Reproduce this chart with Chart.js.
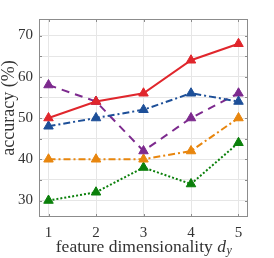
<!DOCTYPE html>
<html>
<head>
<meta charset="utf-8">
<script src="https://cdn.jsdelivr.net/npm/chart.js@4"></script>
<style>
  html, body { margin: 0; padding: 0; background: #fff; }
  #wrap { width: 274px; height: 258px; }
</style>
</head>
<body>
<div id="wrap"><canvas id="chart"></canvas></div>
<script>
const xValues = [1, 2, 3, 4, 5];
const redVals = [50, 54, 56, 64, 68];
const blueVals = [48, 50, 52, 56, 54];
const purpleVals = [58, 54, 42, 50, 56];
const orangeVals = [40, 40, 40, 42, 50];
const greenVals = [30, 32, 38, 34, 44];
const yTicks = [30, 35, 40, 45, 50, 55, 60, 65, 70];
const yLabels = [30, 40, 50, 60, 70];

const FONT = "'Liberation Serif', 'DejaVu Serif', serif";

function series(vals, color, dash) {
  return {
    data: vals.map((v, i) => ({ x: xValues[i], y: v })),
    borderColor: color,
    backgroundColor: color,
    borderWidth: 2,
    borderDash: dash,
    pointStyle: "triangle",
    pointRadius: 5.5,
    pointBorderWidth: 1,
    tension: 0
  };
}

// box, inward ticks and axis titles
const frame = {
  id: "frame",
  afterDraw(chart) {
    const { ctx, chartArea: a, scales } = chart;
    ctx.save();
    ctx.strokeStyle = "#8c8c8c";
    ctx.lineWidth = 1;
    ctx.beginPath();
    xValues.forEach(v => {
      const px = Math.round(scales.x.getPixelForValue(v)) + 0.5;
      ctx.moveTo(px, a.bottom); ctx.lineTo(px, a.bottom - 3);
      ctx.moveTo(px, a.top); ctx.lineTo(px, a.top + 3);
    });
    yTicks.forEach(v => {
      const py = Math.round(scales.y.getPixelForValue(v)) + 0.5;
      ctx.moveTo(a.left, py); ctx.lineTo(a.left + 3, py);
      ctx.moveTo(a.right, py); ctx.lineTo(a.right - 3, py);
    });
    ctx.stroke();
    ctx.strokeRect(Math.round(a.left) + 0.5, Math.round(a.top) + 0.5,
      Math.round(a.right - a.left) - 1, Math.round(a.bottom - a.top) - 1);

    ctx.fillStyle = "#333";
    ctx.textBaseline = "middle";
    // x title
    const main = "feature dimensionality ";
    ctx.font = "17.5px " + FONT;
    const w1 = ctx.measureText(main).width;
    ctx.font = "italic 17.5px " + FONT;
    const w2 = ctx.measureText("d").width;
    ctx.font = "italic 12px " + FONT;
    const w3 = ctx.measureText("y").width;
    let x0 = (a.left + a.right) / 2 - (w1 + w2 + w3) / 2;
    const ty = 247;
    ctx.textAlign = "left";
    ctx.font = "17.5px " + FONT;
    ctx.fillText(main, x0, ty);
    ctx.font = "italic 17.5px " + FONT;
    ctx.fillText("d", x0 + w1, ty);
    ctx.font = "italic 12px " + FONT;
    ctx.fillText("y", x0 + w1 + w2 + 0.5, ty + 4);
    // y title
    ctx.translate(9, 108);
    ctx.rotate(-Math.PI / 2);
    ctx.textAlign = "center";
    ctx.font = "18px " + FONT;
    ctx.fillText("accuracy (%)", 0, 0);
    ctx.restore();
  }
};

new Chart(document.getElementById("chart"), {
  type: "line",
  data: {
    datasets: [
      series(redVals, "#e0262c", []),
      series(blueVals, "#1d4f98", [7, 3, 2, 3]),
      series(purpleVals, "#7d2a8e", [8, 6]),
      series(orangeVals, "#e8860e", [7, 3, 2, 3]),
      series(greenVals, "#0b800b", [2, 2])
    ]
  },
  options: {
    responsive: true,
    maintainAspectRatio: false,
    animation: false,
    layout: { padding: { top: 19, right: 26, left: 0, bottom: 0 } },
    plugins: { legend: { display: false }, tooltip: { enabled: false } },
    scales: {
      x: {
        type: "linear",
        min: 0.8,
        max: 5.2,
        afterBuildTicks: s => { s.ticks = xValues.map(v => ({ value: v })); },
        afterFit: s => { s.height = 41; },
        grid: { color: "#e6e6e6", drawTicks: false },
        border: { display: false },
        ticks: { font: { family: FONT, size: 15 }, color: "#333", padding: 7 }
      },
      y: {
        min: 26,
        max: 74,
        afterBuildTicks: s => { s.ticks = yTicks.map(v => ({ value: v })); },
        afterFit: s => { s.width = 39; },
        grid: { color: "#e6e6e6", drawTicks: false },
        border: { display: false },
        ticks: {
          font: { family: FONT, size: 15 }, color: "#333", padding: 6,
          callback: v => yLabels.includes(v) ? String(v) : ""
        }
      }
    }
  },
  plugins: [frame]
});
</script>
</body>
</html>
